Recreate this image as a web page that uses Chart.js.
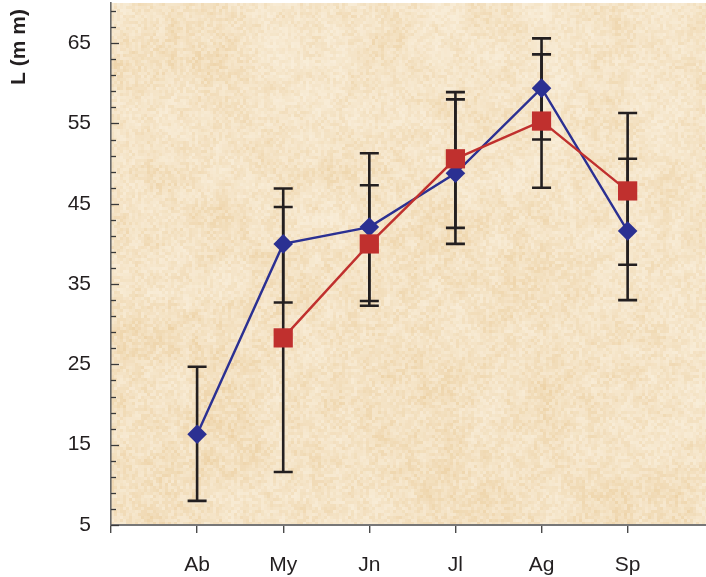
<!DOCTYPE html>
<html>
<head>
<meta charset="utf-8">
<script src="https://cdn.jsdelivr.net/npm/chart.js@4.4.1/dist/chart.umd.min.js"></script>
<style>
html, body { margin: 0; padding: 0; background: #fff; }
#wrap { width: 706px; height: 577px; }
</style>
</head>
<body>
<div id="wrap"><canvas id="chart" width="706" height="577"></canvas></div>
<script>
// data
const months = ['Ab', 'My', 'Jn', 'Jl', 'Ag', 'Sp'];
const monthPos = [1, 2, 3, 4, 5, 6];
const yTicks = [5, 15, 25, 35, 45, 55, 65];

const blueMean = [16.3, 40.0, 42.1, 48.8, 59.4, 41.6];
const blueLow  = [8.0, 32.7, 32.9, 40.0, 53.0, 33.0];
const blueHigh = [24.7, 46.9, 51.3, 58.0, 65.6, 50.6];

const redMean = [null, 28.3, 40.0, 50.6, 55.3, 46.6];
const redLow  = [null, 11.6, 32.3, 42.0, 47.0, 37.4];
const redHigh = [null, 44.6, 47.3, 58.9, 63.6, 56.3];

const FONT = "'Liberation Sans', Arial, sans-serif";
const INK = '#231f20';

// parchment-like fill for the plot area (deterministic hash, no Math.random)
function hash(x, y, s) {
    let h = Math.imul(x, 374761393) + Math.imul(y, 668265263) + Math.imul(s, 982451653);
    h = Math.imul(h ^ (h >>> 13), 1274126177);
    h = h ^ (h >>> 16);
    return (h >>> 0) / 4294967295;
}
function vnoise(x, y, cell, s) {
    const gx = Math.floor(x / cell), gy = Math.floor(y / cell);
    const fx = x / cell - gx, fy = y / cell - gy;
    const sx = fx * fx * (3 - 2 * fx), sy = fy * fy * (3 - 2 * fy);
    const a = hash(gx, gy, s), b = hash(gx + 1, gy, s);
    const c = hash(gx, gy + 1, s), d = hash(gx + 1, gy + 1, s);
    return (a + (b - a) * sx) * (1 - sy) + (c + (d - c) * sx) * sy;
}
let paperCache = null;
function makePaper(w, h) {
    const cv = document.createElement('canvas');
    cv.width = w; cv.height = h;
    const c = cv.getContext('2d');
    const light = [249, 238, 218], dark = [237, 210, 166];
    const B = 3;
    for (let y = 0; y < h; y += B) {
        for (let x = 0; x < w; x += B) {
            let t = 0.45 * hash(x / B, y / B, 7) + 0.3 * vnoise(x, y, 12, 3) + 0.25 * vnoise(x, y, 55, 5);
            t += 0.1 * (y / h) - 0.05 * (x / w);
            t = Math.max(0, Math.min(1, Math.pow(t, 1.5)));
            const r = Math.round(light[0] + (dark[0] - light[0]) * t);
            const g = Math.round(light[1] + (dark[1] - light[1]) * t);
            const b = Math.round(light[2] + (dark[2] - light[2]) * t);
            c.fillStyle = `rgb(${r},${g},${b})`;
            c.fillRect(x, y, B, B);
        }
    }
    return cv;
}

const paperPlugin = {
    id: 'paper',
    beforeDraw(chart) {
        const a = chart.chartArea;
        const w = Math.ceil(a.right - a.left), h = Math.ceil(a.bottom - a.top);
        if (!paperCache) paperCache = makePaper(w, h);
        chart.ctx.drawImage(paperCache, a.left, a.top);
    }
};

const errorBarPlugin = {
    id: 'errorBars',
    beforeDatasetsDraw(chart) {
        const ctx = chart.ctx;
        const xs = chart.scales.x, ys = chart.scales.y;
        const sets = [[blueLow, blueHigh], [redLow, redHigh]];
        ctx.save();
        ctx.strokeStyle = INK;
        ctx.lineWidth = 2.6;
        sets.forEach(([lo, hi]) => {
            monthPos.forEach((p, i) => {
                if (lo[i] == null) return;
                const x = xs.getPixelForValue(p);
                const y1 = ys.getPixelForValue(lo[i]);
                const y2 = ys.getPixelForValue(hi[i]);
                ctx.beginPath();
                ctx.moveTo(x, y1); ctx.lineTo(x, y2);
                ctx.moveTo(x - 9.5, y1); ctx.lineTo(x + 9.5, y1);
                ctx.moveTo(x - 9.5, y2); ctx.lineTo(x + 9.5, y2);
                ctx.stroke();
            });
        });
        ctx.restore();
    }
};

// inward ticks on the y axis and the rotated axis title
const axisPlugin = {
    id: 'axisExtras',
    afterDraw(chart) {
        const ctx = chart.ctx;
        const ys = chart.scales.y;
        const left = chart.chartArea.left;
        ctx.save();
        ctx.strokeStyle = '#3a3a3a';
        ctx.lineWidth = 1.3;
        for (let v = ys.min; v <= ys.max; v += 2) {
            const y = Math.round(ys.getPixelForValue(v)) + 0.5;
            const len = yTicks.includes(v) ? 8 : 5;
            ctx.beginPath();
            ctx.moveTo(left, y); ctx.lineTo(left + len, y);
            ctx.stroke();
        }
        ctx.translate(19, 47);
        ctx.rotate(-Math.PI / 2);
        ctx.fillStyle = INK;
        ctx.font = 'bold 21px ' + FONT;
        ctx.textAlign = 'center';
        ctx.textBaseline = 'middle';
        ctx.fillText('L (m m)', 0, 0);
        ctx.restore();
    }
};

const toPoints = (vals) => monthPos.map((p, i) => ({ x: p, y: vals[i] }));

new Chart(document.getElementById('chart'), {
    type: 'line',
    data: {
        datasets: [
            {
                label: 'red',
                data: toPoints(redMean),
                borderColor: '#c0302e',
                backgroundColor: '#c0302e',
                borderWidth: 2.4,
                pointStyle: 'rect',
                pointRadius: 13.6,
                pointBorderWidth: 0,
                order: 1,
                spanGaps: false
            },
            {
                label: 'blue',
                data: toPoints(blueMean),
                borderColor: '#2b3092',
                backgroundColor: '#2b3092',
                borderWidth: 2.4,
                pointStyle: 'rectRot',
                pointRadius: 9.8,
                pointBorderWidth: 0,
                order: 2
            }
        ]
    },
    options: {
        responsive: false,
        devicePixelRatio: 1,
        animation: false,
        layout: { autoPadding: false, padding: { top: 3, right: 0, left: 0, bottom: 0 } },
        plugins: { legend: { display: false }, tooltip: { enabled: false } },
        scales: {
            x: {
                type: 'linear',
                min: 0,
                max: 6.91,
                afterBuildTicks: (s) => { s.ticks = [0, ...monthPos].map(v => ({ value: v })); },
                afterFit: (s) => { s.height = 52; s.paddingLeft = 0; s.paddingRight = 0; },
                ticks: {
                    autoSkip: false,
                    maxRotation: 0,
                    padding: 20,
                    color: INK,
                    font: { family: FONT, size: 21 },
                    callback: (v) => { const i = monthPos.indexOf(v); return i < 0 ? '' : months[i]; }
                },
                grid: { drawOnChartArea: false, drawTicks: true, tickLength: 8, color: '#4a4a4a', lineWidth: 1.4 },
                border: { display: true, color: '#777', width: 2 }
            },
            y: {
                min: 5,
                max: 70,
                afterBuildTicks: (s) => { s.ticks = yTicks.map(v => ({ value: v })); },
                afterFit: (s) => { s.width = 111; s.paddingTop = 0; s.paddingBottom = 0; },
                ticks: {
                    padding: 20,
                    color: INK,
                    font: { family: FONT, size: 21 }
                },
                grid: { display: false, drawTicks: false },
                border: { display: true, color: '#6b6b6b', width: 1.6 }
            }
        }
    },
    plugins: [paperPlugin, errorBarPlugin, axisPlugin]
});
</script>
</body>
</html>
